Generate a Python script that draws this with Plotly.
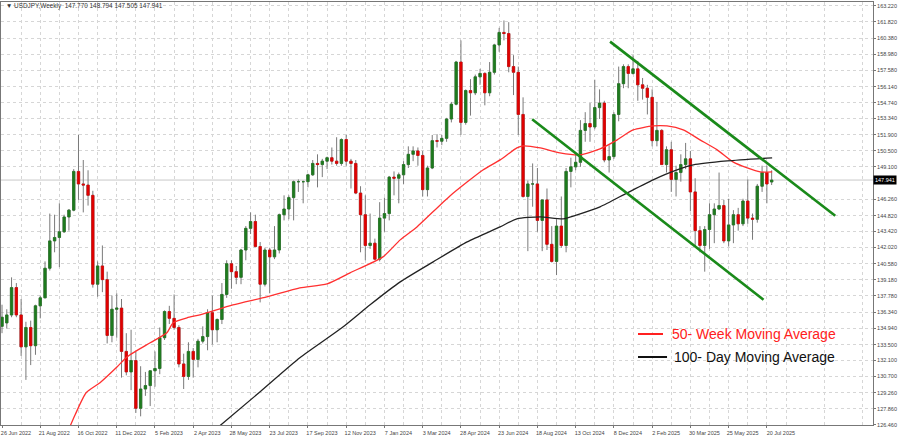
import plotly.graph_objects as go
import pandas as pd

# ---------------- data ----------------
week_start = pd.date_range("2022-06-26", periods=162, freq="7D")

open_ = [135.1, 135.4, 136.1, 138.5, 136.1, 133.3, 135.0, 133.4, 136.9, 137.6,
         140.2, 142.6, 142.9, 143.4, 144.7, 145.3, 148.7, 147.6, 147.5, 146.6,
         138.8, 140.4, 139.2, 134.3, 136.6, 136.7, 132.9, 131.1, 132.1, 127.9,
         129.6, 129.9, 131.2, 131.4, 134.1, 136.4, 135.8, 135.0, 131.8, 130.7,
         132.9, 132.2, 133.8, 134.2, 136.3, 134.8, 135.7, 137.9, 140.6, 139.9,
         139.4, 141.8, 143.7, 144.3, 142.1, 138.8, 141.8, 141.2, 141.8, 144.9,
         145.4, 146.4, 147.8, 147.8, 147.8, 148.4, 149.4, 149.3, 149.6, 149.9,
         149.6, 149.4, 151.5, 149.6, 149.4, 146.8, 144.9, 142.2, 142.4, 141.0,
         144.6, 145.0, 148.2, 148.1, 148.4, 149.3, 150.2, 150.5, 150.1, 147.1,
         149.0, 151.4, 151.35, 151.6, 153.3, 154.6, 158.3, 153.0, 155.8, 155.6,
         157.0, 157.3, 155.6, 157.4, 159.8, 160.9, 160.8, 157.9, 157.4, 153.7,
         146.5, 147.6, 147.6, 144.4, 146.2, 142.3, 140.8, 143.9, 142.2, 148.7,
         149.1, 149.5, 152.3, 152.9, 152.6, 154.3, 154.7, 149.7, 150.0, 153.7,
         156.4, 157.9, 157.3, 157.7, 156.3, 156.0, 155.2, 151.4, 152.3, 149.3,
         150.6, 148.0, 148.6, 149.3, 149.8, 146.9, 143.5, 142.2, 143.6, 144.9,
         145.4, 145.7, 142.6, 144.0, 144.9, 144.1, 146.1, 144.6, 144.5, 147.4,
         148.6, 147.77]
high = [137.0, 136.6, 139.4, 138.9, 137.5, 135.5, 135.6, 137.0, 137.8, 140.8,
        145.0, 144.9, 145.9, 144.9, 145.4, 148.9, 151.9, 149.7, 148.8, 147.0,
        140.8, 142.2, 139.9, 137.8, 138.0, 137.5, 134.5, 134.8, 132.9, 131.6,
        131.1, 131.2, 132.9, 135.0, 136.5, 136.9, 137.9, 135.2, 132.7, 133.7,
        133.2, 134.0, 135.1, 136.6, 137.8, 135.8, 138.9, 140.9, 140.9, 140.4,
        141.9, 143.9, 145.1, 144.9, 142.5, 142.0, 142.0, 143.9, 145.0, 146.6,
        146.6, 147.9, 148.0, 147.9, 148.5, 149.7, 150.2, 149.8, 150.0, 150.8,
        151.7, 151.6, 151.9, 149.8, 149.7, 147.4, 146.6, 145.0, 142.8, 146.0,
        146.4, 148.3, 148.7, 148.6, 149.6, 150.9, 150.9, 150.8, 150.5, 149.2,
        151.9, 151.97, 151.9, 153.4, 154.8, 158.4, 160.2, 155.9, 156.8, 157.2,
        157.7, 157.4, 158.3, 159.9, 161.3, 161.95, 161.8, 158.9, 157.9, 155.2,
        147.9, 149.4, 149.0, 146.2, 147.2, 143.9, 144.5, 146.5, 149.0, 149.9,
        150.3, 153.2, 153.9, 154.7, 156.75, 155.9, 154.9, 151.0, 153.9, 157.9,
        158.1, 158.1, 158.9, 158.4, 156.9, 156.3, 155.9, 154.8, 152.4, 150.9,
        151.3, 149.2, 150.2, 151.2, 150.5, 148.1, 143.9, 143.9, 145.9, 145.9,
        148.6, 146.2, 146.3, 145.3, 145.5, 146.3, 148.0, 145.0, 147.6, 149.2,
        149.2, 148.794]
low = [134.5, 134.9, 135.9, 135.9, 132.5, 130.4, 131.7, 132.6, 135.8, 137.6,
       140.0, 141.6, 140.3, 143.3, 143.5, 145.2, 146.2, 145.1, 145.7, 138.5,
       137.7, 138.1, 133.6, 133.7, 134.1, 130.6, 130.8, 129.5, 127.5, 127.2,
       129.0, 128.1, 129.8, 130.9, 133.9, 135.3, 134.8, 131.5, 129.6, 130.4,
       130.6, 131.5, 133.6, 133.0, 133.5, 133.7, 135.3, 137.6, 138.4, 138.8,
       138.8, 140.9, 143.2, 142.1, 137.2, 138.6, 138.0, 141.0, 141.5, 144.4,
       144.5, 144.4, 146.9, 145.9, 147.3, 148.3, 147.3, 148.2, 148.9, 149.3,
       149.2, 149.2, 149.2, 147.2, 146.7, 141.6, 140.9, 141.9, 140.9, 140.8,
       143.4, 144.4, 146.6, 145.9, 147.6, 149.0, 149.6, 149.2, 146.5, 146.5,
       148.9, 150.8, 151.0, 151.3, 153.0, 154.5, 151.9, 152.8, 153.6, 155.4,
       156.3, 154.5, 155.3, 157.2, 159.2, 160.2, 157.4, 155.4, 151.9, 146.4,
       141.7, 145.6, 143.4, 141.7, 141.8, 140.7, 139.6, 142.0, 141.6, 147.3,
       148.8, 149.1, 151.3, 151.3, 152.4, 153.3, 149.5, 148.6, 149.8, 153.1,
       156.0, 156.0, 157.2, 154.9, 155.0, 153.7, 150.9, 150.9, 149.3, 148.6,
       146.9, 146.5, 147.8, 148.9, 145.2, 142.1, 141.6, 139.9, 141.9, 142.4,
       145.3, 142.4, 142.1, 142.4, 143.5, 143.9, 144.1, 142.7, 144.2, 146.9,
       145.9, 147.505]
close = [135.9, 136.1, 138.5, 136.1, 133.3, 135.0, 133.4, 136.9, 137.6, 140.2,
         142.6, 142.9, 143.4, 144.7, 145.3, 148.7, 147.6, 147.5, 146.6, 138.8,
         140.4, 139.2, 134.3, 136.6, 136.7, 132.9, 131.1, 132.1, 127.9, 129.6,
         129.9, 131.2, 131.4, 134.1, 136.4, 135.8, 135.0, 131.8, 130.7, 132.9,
         132.2, 133.8, 134.2, 136.3, 134.8, 135.7, 137.9, 140.6, 139.9, 139.4,
         141.8, 143.7, 144.3, 142.1, 138.8, 141.8, 141.2, 141.8, 144.9, 145.4,
         146.4, 147.8, 147.8, 147.8, 148.4, 149.4, 149.3, 149.6, 149.9, 149.6,
         149.4, 151.5, 149.6, 149.4, 146.8, 144.9, 142.2, 142.4, 141.0, 144.6,
         145.0, 148.2, 148.1, 148.4, 149.3, 150.2, 150.5, 150.1, 147.1, 149.0,
         151.4, 151.35, 151.6, 153.3, 154.6, 158.3, 153.0, 155.8, 155.6, 157.0,
         157.3, 155.6, 157.4, 159.8, 160.9, 160.8, 157.9, 157.4, 153.7, 146.5,
         147.6, 147.6, 144.4, 146.2, 142.3, 140.8, 143.9, 142.2, 148.7, 149.1,
         149.5, 152.3, 152.9, 152.6, 154.3, 154.7, 149.7, 150.0, 153.7, 156.4,
         157.9, 157.3, 157.7, 156.3, 156.0, 155.2, 151.4, 152.3, 149.3, 150.6,
         148.0, 148.6, 149.3, 149.8, 146.9, 143.5, 142.2, 143.6, 144.9, 145.4,
         145.7, 142.6, 144.0, 144.9, 144.1, 146.1, 144.6, 144.5, 147.4, 148.6,
         147.6, 147.941]

# 50-week moving average (week index, price)
ma50_week = [14.2, 15.3, 17.6, 20.5, 24.1, 26.2, 31.0, 34.5, 35.8, 38.7, 41.4,
             48.3, 55.4, 62.3, 68.0, 72.8, 79.7, 83.3, 86.8, 93.7, 100.6, 104.2,
             107.7, 109.0, 112.6, 116.7, 120.9, 125.1, 128.7, 132.0, 136.2, 139.1,
             142.5, 146.0, 149.6, 152.9, 155.9, 158.6, 161.1]
ma50_value = [126.29, 127.34, 129.27, 130.15, 131.55, 132.43, 133.66, 134.54,
              135.41, 135.85, 136.11, 136.99, 137.69, 138.48, 138.83, 139.80,
              141.20, 142.69, 143.83, 146.55, 148.83, 149.71, 150.76, 150.94,
              150.76, 150.33, 150.15, 150.68, 151.47, 152.34, 152.69, 152.69,
              152.34, 151.47, 150.59, 149.54, 149.01, 148.66, 148.66]

# 100-period moving average
ma100_week = [44.6, 54.0, 62.3, 71.1, 77.0, 83.3, 90.2, 97.3, 104.2, 107.7,
              112.6, 117.4, 120.3, 125.1, 130.8, 136.2, 141.2, 144.6, 151.7, 161.1]
ma100_value = [126.03, 129.36, 132.34, 134.97, 136.99, 139.00, 140.76, 142.51,
               143.83, 144.54, 144.71, 144.54, 144.89, 145.59, 146.82, 147.96,
               148.83, 149.27, 149.62, 149.89]

# channel trend lines (week index, price)
upper_trend_week = [127.2, 174.3]
upper_trend_price = [160.09, 144.80]
lower_trend_week = [110.9, 159.3]
lower_trend_price = [153.28, 137.43]

price_labels = ["163.220", "161.820", "160.380", "158.980", "157.580", "156.140",
                "154.740", "153.340", "151.900", "150.500", "149.100", "146.260",
                "144.820", "143.420", "142.020", "140.580", "139.180", "137.780",
                "136.340", "134.940", "133.500", "132.100", "130.700", "129.260",
                "127.860", "126.460"]

header_text = "▼ USDJPY,Weekly  147.770 148.794 147.505 147.941"
legend_ma50 = "50- Week Moving Average"
legend_ma100 = "100- Day Moving Average"

# ---------------- figure ----------------
idx = list(range(len(close)))
body_hi = [max(o, c) for o, c in zip(open_, close)]
body_lo = [min(o, c) for o, c in zip(open_, close)]

GREEN = "#1e7b1e"
RED = "#e00000"
WICK = "#7a7a7a"

fig = go.Figure()

# wicks
fig.add_trace(go.Candlestick(
    x=idx, open=open_, high=high, low=low, close=close,
    increasing=dict(line=dict(color=WICK, width=1), fillcolor=WICK),
    decreasing=dict(line=dict(color=WICK, width=1), fillcolor=WICK),
    whiskerwidth=0, showlegend=False, hoverinfo="skip"))
# bodies
fig.add_trace(go.Candlestick(
    x=idx, open=open_, high=body_hi, low=body_lo, close=close,
    increasing=dict(line=dict(color=GREEN, width=0.6), fillcolor=GREEN),
    decreasing=dict(line=dict(color=RED, width=0.6), fillcolor=RED),
    whiskerwidth=0, showlegend=False, hoverinfo="skip"))

fig.add_trace(go.Scatter(x=ma50_week, y=ma50_value, mode="lines",
                         line=dict(color="#ff3030", width=1.3, shape="spline", smoothing=0.6),
                         showlegend=False, hoverinfo="skip"))
fig.add_trace(go.Scatter(x=ma100_week, y=ma100_value, mode="lines",
                         line=dict(color="#222222", width=1.3, shape="spline", smoothing=0.6),
                         showlegend=False, hoverinfo="skip"))
fig.add_trace(go.Scatter(x=upper_trend_week, y=upper_trend_price, mode="lines",
                         line=dict(color="#1a8a1a", width=2.6),
                         showlegend=False, hoverinfo="skip"))
fig.add_trace(go.Scatter(x=lower_trend_week, y=lower_trend_price, mode="lines",
                         line=dict(color="#1a8a1a", width=2.6),
                         showlegend=False, hoverinfo="skip"))

# bid line
fig.add_shape(type="line", xref="paper", x0=0, x1=1, yref="y",
              y0=close[-1], y1=close[-1], line=dict(color="#c8c8c8", width=1),
              layer="below")

x_tick_idx = list(range(0, len(idx), 8))
x_tick_txt = [week_start[i].strftime("%-d %b %Y") for i in x_tick_idx]

GRID = "#d6d6d6"
fig.update_layout(
    width=900, height=436,
    margin=dict(l=1, r=27, t=2, b=11),
    paper_bgcolor="white", plot_bgcolor="white",
    font=dict(family="Liberation Sans, Arial, sans-serif", size=6, color="#333"),
    xaxis=dict(range=[-0.21, 182.2], rangeslider=dict(visible=False),
               tickmode="array", tickvals=x_tick_idx, ticktext=x_tick_txt,
               showgrid=True, gridcolor=GRID, griddash="dot", gridwidth=1,
               minor=dict(tickvals=list(range(4, 183, 8)), showgrid=True,
                          gridcolor=GRID, griddash="dot", gridwidth=1),
               ticks="outside", ticklen=2, tickcolor="#777",
               tickfont=dict(size=5.5, color="#444"), ticklabelshift=14,
               showline=True, linecolor="#777", linewidth=1, mirror=True,
               zeroline=False, fixedrange=True),
    yaxis=dict(range=[126.44, 163.57], side="right",
               tickmode="array", tickvals=[float(s) for s in price_labels],
               ticktext=price_labels,
               showgrid=True, gridcolor=GRID, griddash="dot", gridwidth=1,
               ticks="outside", ticklen=2, tickcolor="#777",
               tickfont=dict(size=5.5, color="#444"),
               showline=True, linecolor="#777", linewidth=1, mirror=True,
               zeroline=False, fixedrange=True),
)

# header
fig.add_annotation(xref="paper", yref="paper", x=0.004, y=0.991, xanchor="left",
                   yanchor="middle", text=header_text, showarrow=False,
                   font=dict(size=6.4, color="#333"))
# current price box
fig.add_annotation(xref="paper", yref="y", x=1.0, y=close[-1], xanchor="left",
                   yanchor="middle", text=f"{close[-1]:.3f}", showarrow=False,
                   bgcolor="black", font=dict(size=5.5, color="white"), borderpad=1)

# legend
fig.add_shape(type="line", xref="paper", yref="paper", x0=0.7305, x1=0.7592,
              y0=0.2151, y1=0.2151, line=dict(color="#ff2020", width=2))
fig.add_annotation(xref="paper", yref="paper", x=0.7672, y=0.2151, xanchor="left",
                   yanchor="middle", text=legend_ma50, showarrow=False,
                   font=dict(family="Liberation Sans, Arial", size=14, color="#ff2020"))
fig.add_shape(type="line", xref="paper", yref="paper", x0=0.7305, x1=0.7638,
              y0=0.1608, y1=0.1608, line=dict(color="#111111", width=2))
fig.add_annotation(xref="paper", yref="paper", x=0.7695, y=0.1608, xanchor="left",
                   yanchor="middle", text=legend_ma100, showarrow=False,
                   font=dict(family="Liberation Sans, Arial", size=14, color="#111111"))

fig.write_html("out.html",
               config={"displayModeBar": False, "staticPlot": True},
               post_script="document.body.style.margin='0';"
                           "document.body.style.padding='0';"
                           "document.body.style.overflow='hidden';")
